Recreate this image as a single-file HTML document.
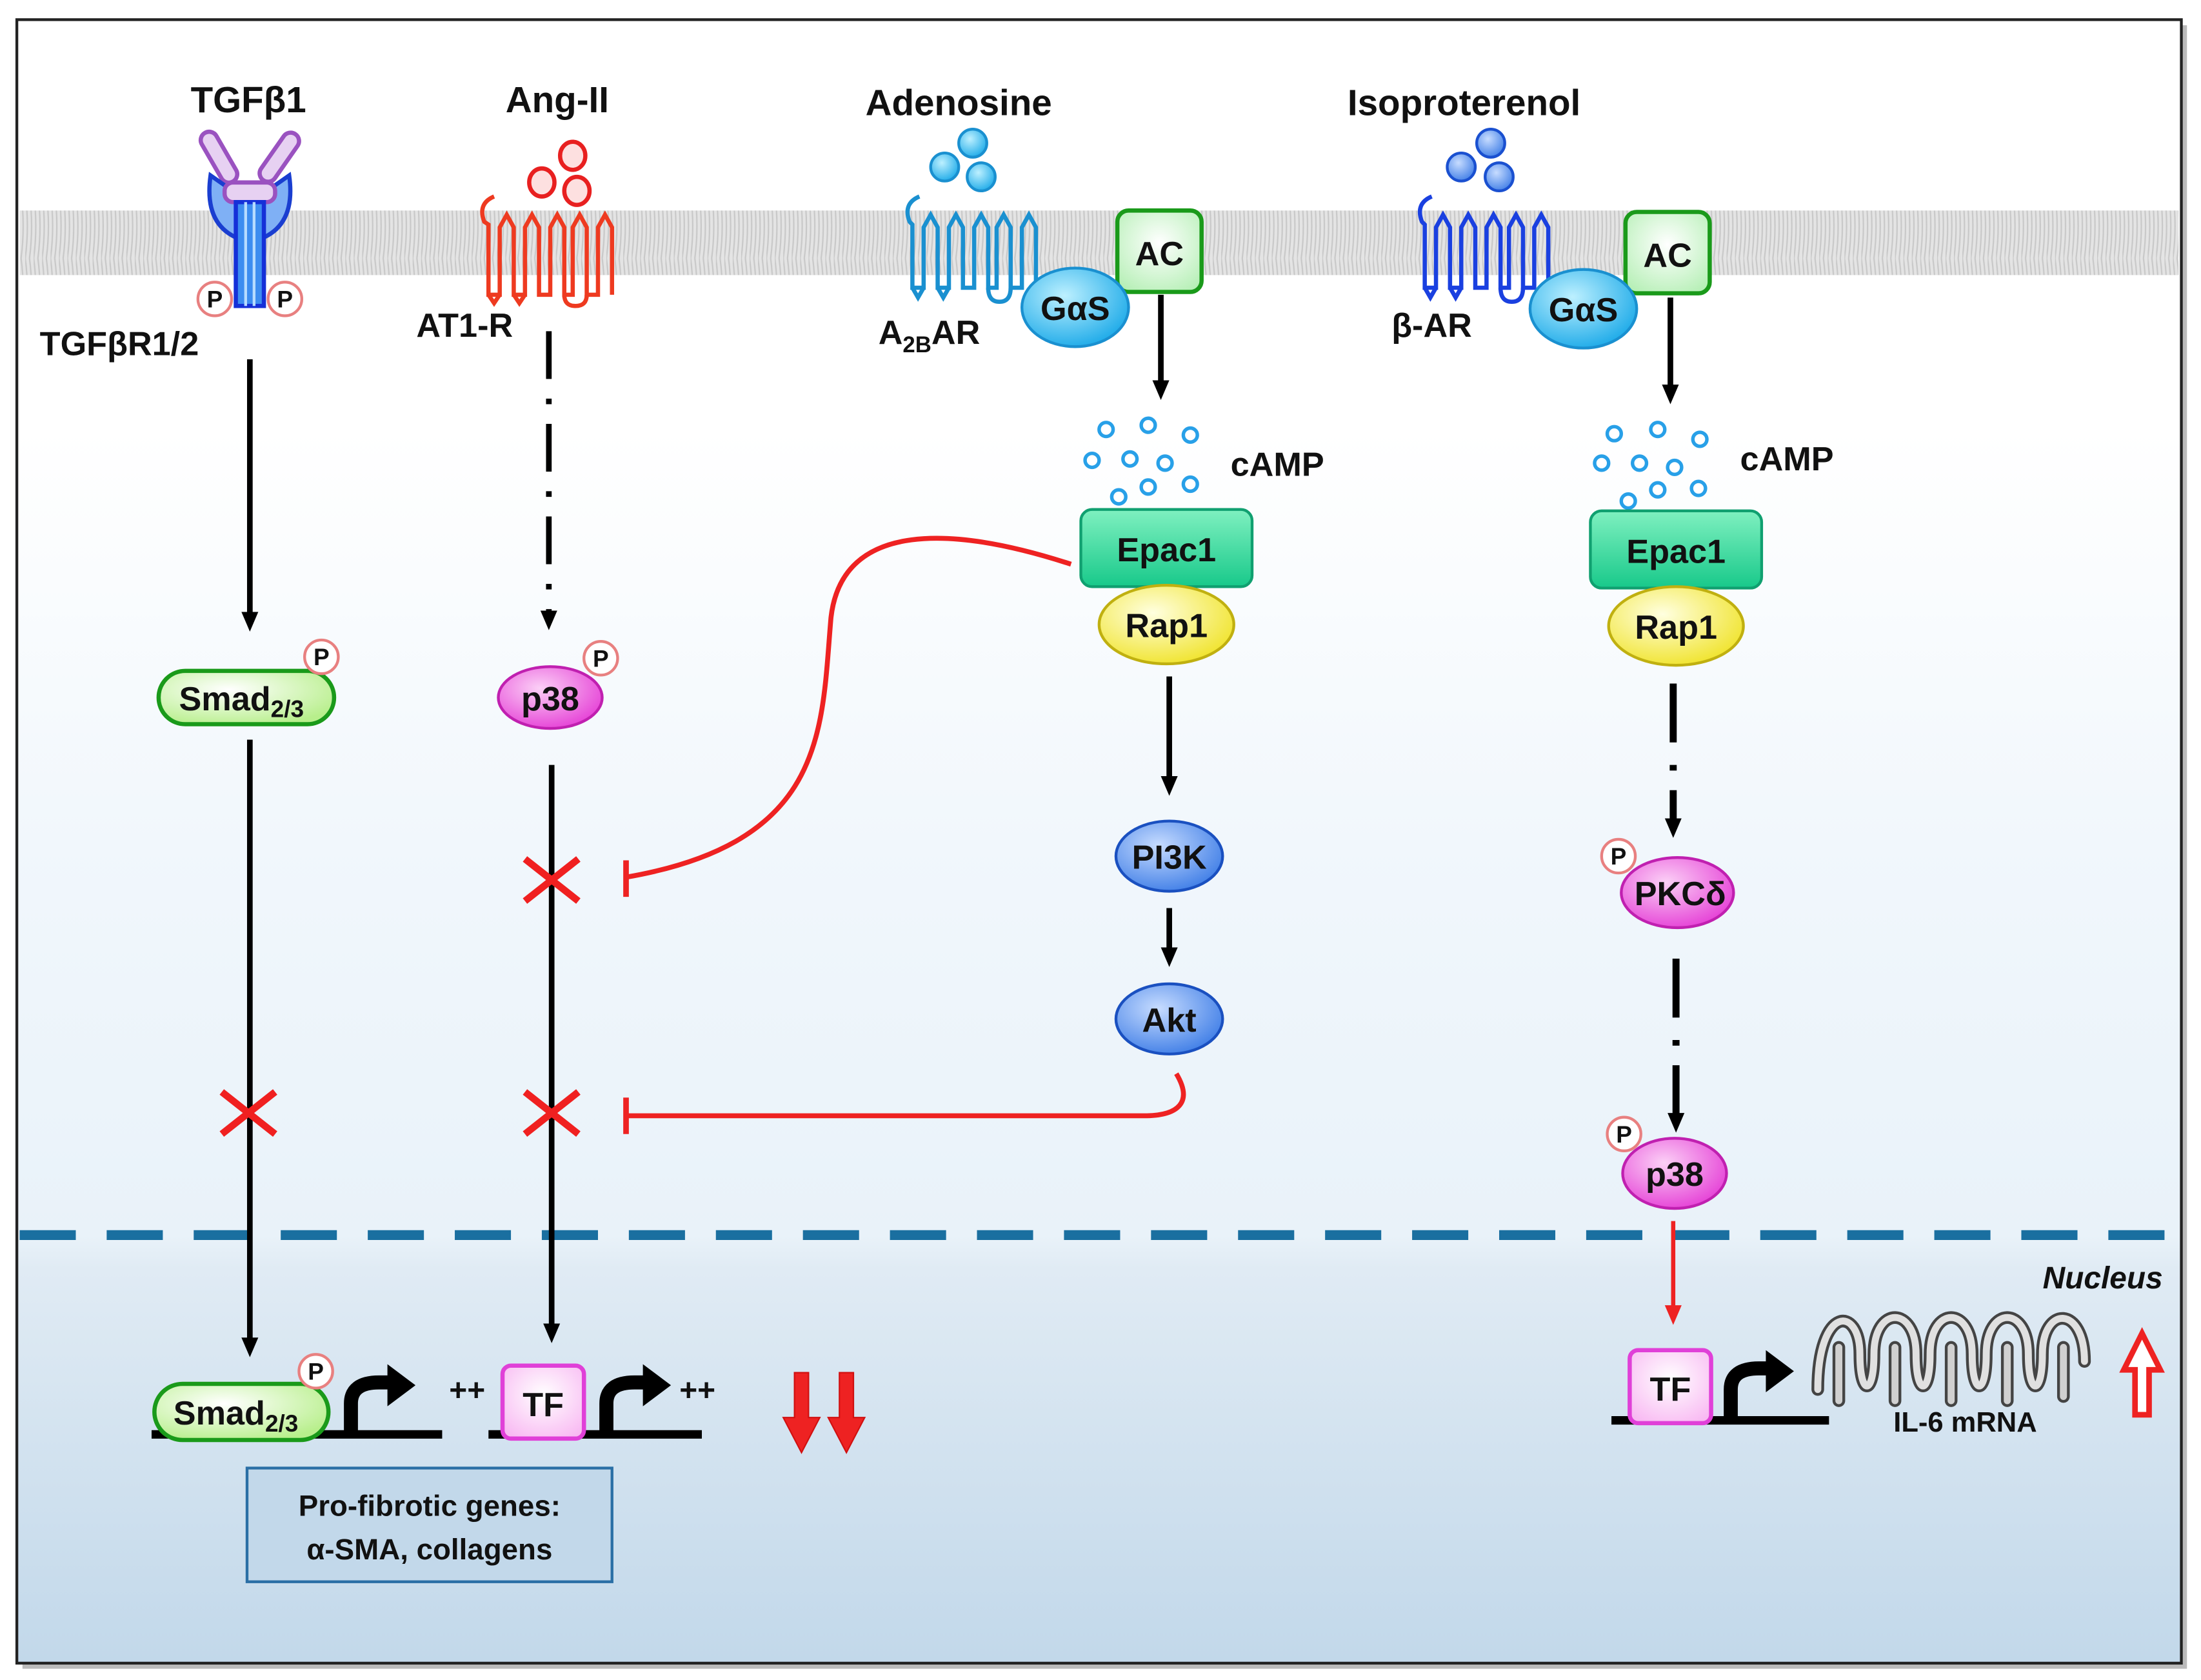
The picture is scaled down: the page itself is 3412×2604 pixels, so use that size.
<!DOCTYPE html>
<html><head><meta charset="utf-8"><style>
html,body{margin:0;padding:0;background:#fff}
svg{display:block}
text{font-family:"Liberation Sans",sans-serif;font-weight:bold;fill:#111}
</style></head><body>
<svg width="3412" height="2604" viewBox="0 0 1568 1197" preserveAspectRatio="none" xmlns="http://www.w3.org/2000/svg">
<defs>
<linearGradient id="bg" x1="0" y1="0" x2="0" y2="1">
<stop offset="0" stop-color="#ffffff"/><stop offset="0.25" stop-color="#ffffff"/><stop offset="0.5" stop-color="#f1f7fc"/><stop offset="0.74" stop-color="#e9f2f9"/><stop offset="0.76" stop-color="#e0ebf4"/><stop offset="1" stop-color="#c2d8ea"/></linearGradient>
<pattern id="mem" width="6" height="46" patternUnits="userSpaceOnUse">
<rect width="6" height="46" fill="#e4e4e4"/><path d="M0 0 Q3 23 0 46 M3 0 Q6 23 3 46" stroke="#c8c8c8" fill="none" stroke-width="1"/></pattern>
<radialGradient id="gG" cx="0.4" cy="0.35" r="0.7"><stop offset="0" stop-color="#ffffff"/><stop offset="1" stop-color="#b8ef8c"/></radialGradient>
<radialGradient id="gM" cx="0.4" cy="0.35" r="0.7"><stop offset="0" stop-color="#fbd0f6"/><stop offset="1" stop-color="#e53fd6"/></radialGradient>
<radialGradient id="gT" cx="0.5" cy="0.4" r="0.7"><stop offset="0" stop-color="#ffffff"/><stop offset="1" stop-color="#f8b8f2"/></radialGradient>
<radialGradient id="gC" cx="0.4" cy="0.35" r="0.7"><stop offset="0" stop-color="#bdf0ff"/><stop offset="1" stop-color="#1aa9e8"/></radialGradient>
<radialGradient id="gB" cx="0.4" cy="0.35" r="0.7"><stop offset="0" stop-color="#c7dcff"/><stop offset="1" stop-color="#3e7de6"/></radialGradient>
<radialGradient id="gY" cx="0.4" cy="0.35" r="0.7"><stop offset="0" stop-color="#ffffe0"/><stop offset="1" stop-color="#f0e32a"/></radialGradient>
<linearGradient id="gE" x1="0" y1="0" x2="0" y2="1"><stop offset="0" stop-color="#7ff0c0"/><stop offset="1" stop-color="#18c98a"/></linearGradient>
<radialGradient id="gA" cx="0.5" cy="0.4" r="0.7"><stop offset="0" stop-color="#ffffff"/><stop offset="1" stop-color="#b5efb5"/></radialGradient>
<marker id="ahb" markerWidth="14" markerHeight="14" refX="7" refY="7" orient="auto" markerUnits="userSpaceOnUse" viewBox="0 0 14 14"><path d="M0 1 L14 7 L0 13Z" fill="#000"/></marker>
<marker id="ahr" markerWidth="14" markerHeight="14" refX="7" refY="7" orient="auto" markerUnits="userSpaceOnUse" viewBox="0 0 14 14"><path d="M0 1 L14 7 L0 13Z" fill="#ee2222"/></marker>
</defs>
<rect x="16" y="18" width="1542" height="1171" fill="#bbb"/>
<rect x="12" y="14" width="1542" height="1171" fill="url(#bg)" stroke="#222" stroke-width="2"/>
<rect x="14" y="150" width="1538" height="46" fill="url(#mem)"/>
<line x1="14" y1="880" x2="1554" y2="880" stroke="#1a6fa0" stroke-width="7" stroke-dasharray="40 22"/>
<text x="1498" y="918" font-size="22" font-style="italic" font-weight="normal" text-anchor="middle">Nucleus</text>

<!-- TGF -->
<text x="177" y="80" font-size="26" text-anchor="middle">TGFβ1</text>
<rect x="150" y="92" width="12" height="40" rx="6" transform="rotate(-30 156 112)" fill="#e7d1f2" stroke="#9a52c0" stroke-width="3"/>
<rect x="193" y="92" width="12" height="40" rx="6" transform="rotate(35 199 112)" fill="#e7d1f2" stroke="#9a52c0" stroke-width="3"/>
<path d="M150 125 Q145 160 170 170 L186 170 Q211 160 206 125 L196 132 Q178 140 160 132Z" fill="#7fb0f5" stroke="#1a3ed0" stroke-width="3"/>
<rect x="160" y="130" width="36" height="14" rx="6" fill="#e7d1f2" stroke="#9a52c0" stroke-width="3"/>
<rect x="168" y="144" width="20" height="74" fill="#3d8df0" stroke="#1530d8" stroke-width="3"/>
<line x1="175" y1="144" x2="175" y2="218" stroke="#b8dcff" stroke-width="2"/><line x1="181" y1="144" x2="181" y2="218" stroke="#b8dcff" stroke-width="2"/>
<g font-size="17" text-anchor="middle">
<circle cx="153" cy="213" r="12" fill="#fff" stroke="#e88080" stroke-width="2"/><text x="153" y="219">P</text>
<circle cx="203" cy="213" r="12" fill="#fff" stroke="#e88080" stroke-width="2"/><text x="203" y="219">P</text></g>
<text x="85" y="253" font-size="24" text-anchor="middle">TGFβR1/2</text>
<line x1="178" y1="256" x2="178" y2="443" stroke="#000" stroke-width="4" marker-end="url(#ahb)"/>
<rect x="113" y="478" width="125" height="38" rx="19" fill="url(#gG)" stroke="#1a9a1a" stroke-width="3"/>
<text x="172" y="506" font-size="24" text-anchor="middle">Smad<tspan font-size="17" dy="5">2/3</tspan></text>
<circle cx="229" cy="468" r="12" fill="#fff" stroke="#e88080" stroke-width="2"/><text x="229" y="474" font-size="17" text-anchor="middle">P</text>
<line x1="178" y1="527" x2="178" y2="960" stroke="#000" stroke-width="4" marker-end="url(#ahb)"/>
<path d="M158 778 L196 808 M196 778 L158 808" stroke="#f02020" stroke-width="5"/>
<line x1="108" y1="1022" x2="315" y2="1022" stroke="#000" stroke-width="6"/>
<rect x="110" y="986" width="124" height="40" rx="20" fill="url(#gG)" stroke="#1a9a1a" stroke-width="3"/>
<text x="168" y="1015" font-size="24" text-anchor="middle">Smad<tspan font-size="17" dy="5">2/3</tspan></text>
<circle cx="225" cy="977" r="12" fill="#fff" stroke="#e88080" stroke-width="2"/><text x="225" y="983" font-size="17" text-anchor="middle">P</text>
<path d="M250 1022 L250 1000 Q250 985 270 985 L278 985" stroke="#000" stroke-width="10" fill="none"/><path d="M276 972 L296 987 L276 1002Z" fill="#000"/>
<text x="320" y="998" font-size="22">++</text>

<!-- Ang-II -->
<text x="397" y="80" font-size="26" text-anchor="middle">Ang-II</text>
<g fill="#fde0e0" stroke="#e82020" stroke-width="3"><ellipse cx="408" cy="111" rx="9" ry="10"/><ellipse cx="386" cy="130" rx="9" ry="10"/><ellipse cx="411" cy="136" rx="9" ry="10"/></g>
<path d="M352 140 Q340 145 345 158 L348 160 L348 210 L356 210 L356 162 L361 153 L366 162 L366 210 L374 210 L374 162 L379 153 L384 162 L384 210 L392 210 L392 162 L397 153 L402 162 L402 210 L408 210 L408 162 L413 153 L418 162 L418 210 L426 210 L426 162 L431 153 L436 162 L436 210" fill="none" stroke="#ee3a20" stroke-width="3"/>
<path d="M402 210 Q402 218 410 218 Q418 218 418 210 M348 210 L352 216 L356 210 M366 210 L370 216 L374 210" fill="none" stroke="#ee3a20" stroke-width="3"/>
<text x="331" y="240" font-size="24" text-anchor="middle">AT1-R</text>
<line x1="391" y1="236" x2="391" y2="442" stroke="#000" stroke-width="4" stroke-dasharray="34 14 4 14" marker-end="url(#ahb)"/>
<ellipse cx="392" cy="497" rx="37" ry="22" fill="url(#gM)" stroke="#c020b0" stroke-width="2"/>
<text x="392" y="506" font-size="24" text-anchor="middle">p38</text>
<circle cx="428" cy="469" r="12" fill="#fff" stroke="#e88080" stroke-width="2"/><text x="428" y="475" font-size="17" text-anchor="middle">P</text>
<line x1="393" y1="545" x2="393" y2="950" stroke="#000" stroke-width="4" marker-end="url(#ahb)"/>
<path d="M374 612 L412 642 M412 612 L374 642" stroke="#f02020" stroke-width="5"/>
<path d="M374 778 L412 808 M412 778 L374 808" stroke="#f02020" stroke-width="5"/>
<line x1="348" y1="1022" x2="500" y2="1022" stroke="#000" stroke-width="6"/>
<rect x="358" y="973" width="58" height="52" rx="6" fill="url(#gT)" stroke="#e040d8" stroke-width="3"/>
<text x="387" y="1009" font-size="24" text-anchor="middle">TF</text>
<path d="M432 1022 L432 1000 Q432 985 452 985 L460 985" stroke="#000" stroke-width="10" fill="none"/><path d="M458 972 L478 987 L458 1002Z" fill="#000"/>
<text x="484" y="998" font-size="22">++</text>
<g fill="#ee2222" stroke="#d01010" stroke-width="1">
<path d="M566 978 L576 978 L576 1010 L584 1010 L571 1035 L558 1010 L566 1010Z"/>
<path d="M598 978 L608 978 L608 1010 L616 1010 L603 1035 L590 1010 L598 1010Z"/></g>
<rect x="176" y="1046" width="260" height="81" fill="#c2d8ea" stroke="#2a6fa5" stroke-width="2"/>
<text x="306" y="1080" font-size="21" text-anchor="middle">Pro-fibrotic genes:</text>
<text x="306" y="1111" font-size="21" text-anchor="middle">α-SMA, collagens</text>

<!-- Adenosine -->
<text x="683" y="82" font-size="26" text-anchor="middle">Adenosine</text>
<g fill="url(#gC)" stroke="#1a90d0" stroke-width="2"><circle cx="693" cy="102" r="10"/><circle cx="673" cy="119" r="10"/><circle cx="699" cy="126" r="10"/></g>
<path d="M655 140 Q643 145 648 158 L650 160 L650 205 L658 205 L658 162 L663 153 L668 162 L668 205 L676 205 L676 162 L681 153 L686 162 L686 205 L694 205 L694 162 L699 153 L704 162 L704 205 L710 205 L710 162 L715 153 L720 162 L720 205 L728 205 L728 162 L733 153 L738 162 L738 205" fill="none" stroke="#1a90d0" stroke-width="3"/>
<path d="M704 205 Q704 215 712 215 Q720 215 720 205 M650 205 L654 212 L658 205 M668 205 L672 212 L676 205" fill="none" stroke="#1a90d0" stroke-width="3"/>
<text x="662" y="245" font-size="24" text-anchor="middle">A<tspan font-size="16" dy="6">2B</tspan><tspan dy="-6">AR</tspan></text>
<rect x="796" y="150" width="60" height="58" rx="8" fill="url(#gA)" stroke="#1a9a1a" stroke-width="3"/>
<text x="826" y="189" font-size="24" text-anchor="middle">AC</text>
<ellipse cx="766" cy="219" rx="38" ry="28" fill="url(#gC)" stroke="#1a90d0" stroke-width="2"/>
<text x="766" y="228" font-size="24" text-anchor="middle">GαS</text>
<line x1="827" y1="210" x2="827" y2="278" stroke="#000" stroke-width="4" marker-end="url(#ahb)"/>
<g fill="#fff" stroke="#28a0e8" stroke-width="2.5">
<circle cx="788" cy="306" r="5"/><circle cx="818" cy="303" r="5"/><circle cx="848" cy="310" r="5"/><circle cx="778" cy="328" r="5"/><circle cx="805" cy="327" r="5"/><circle cx="830" cy="330" r="5"/><circle cx="797" cy="354" r="5"/><circle cx="818" cy="347" r="5"/><circle cx="848" cy="345" r="5"/></g>
<text x="910" y="339" font-size="24" text-anchor="middle">cAMP</text>
<path d="M763 402 C680 375 600 370 592 440 C585 520 590 600 446 625" fill="none" stroke="#ee2222" stroke-width="3.5"/>
<line x1="446" y1="613" x2="446" y2="639" stroke="#ee2222" stroke-width="4"/>
<path d="M838 765 C850 785 840 795 815 795 L446 795" fill="none" stroke="#ee2222" stroke-width="3.5"/>
<line x1="446" y1="782" x2="446" y2="808" stroke="#ee2222" stroke-width="4"/>
<rect x="770" y="363" width="122" height="55" rx="8" fill="url(#gE)" stroke="#10a070" stroke-width="2"/>
<text x="831" y="400" font-size="24" text-anchor="middle">Epac1</text>
<ellipse cx="831" cy="445" rx="48" ry="28" fill="url(#gY)" stroke="#c0b010" stroke-width="2"/>
<text x="831" y="454" font-size="24" text-anchor="middle">Rap1</text>
<line x1="833" y1="482" x2="833" y2="560" stroke="#000" stroke-width="4" marker-end="url(#ahb)"/>
<ellipse cx="833" cy="610" rx="38" ry="25" fill="url(#gB)" stroke="#1a50c0" stroke-width="2"/>
<text x="833" y="619" font-size="24" text-anchor="middle">PI3K</text>
<line x1="833" y1="647" x2="833" y2="682" stroke="#000" stroke-width="4" marker-end="url(#ahb)"/>
<ellipse cx="833" cy="726" rx="38" ry="25" fill="url(#gB)" stroke="#1a50c0" stroke-width="2"/>
<text x="833" y="735" font-size="24" text-anchor="middle">Akt</text>

<!-- Isoproterenol -->
<text x="1043" y="82" font-size="26" text-anchor="middle">Isoproterenol</text>
<g fill="url(#gB)" stroke="#1a50d0" stroke-width="2"><circle cx="1062" cy="102" r="10"/><circle cx="1041" cy="119" r="10"/><circle cx="1068" cy="126" r="10"/></g>
<path d="M1020 140 Q1008 145 1013 158 L1015 160 L1015 205 L1023 205 L1023 162 L1028 153 L1033 162 L1033 205 L1041 205 L1041 162 L1046 153 L1051 162 L1051 205 L1059 205 L1059 162 L1064 153 L1069 162 L1069 205 L1075 205 L1075 162 L1080 153 L1085 162 L1085 205 L1093 205 L1093 162 L1098 153 L1103 162 L1103 205" fill="none" stroke="#1a40e0" stroke-width="3"/>
<path d="M1069 205 Q1069 215 1077 215 Q1085 215 1085 205 M1015 205 L1019 212 L1023 205 M1033 205 L1037 212 L1041 205" fill="none" stroke="#1a40e0" stroke-width="3"/>
<text x="1020" y="240" font-size="24" text-anchor="middle">β-AR</text>
<rect x="1158" y="151" width="60" height="58" rx="8" fill="url(#gA)" stroke="#1a9a1a" stroke-width="3"/>
<text x="1188" y="190" font-size="24" text-anchor="middle">AC</text>
<ellipse cx="1128" cy="220" rx="38" ry="28" fill="url(#gC)" stroke="#1a90d0" stroke-width="2"/>
<text x="1128" y="229" font-size="24" text-anchor="middle">GαS</text>
<line x1="1190" y1="212" x2="1190" y2="281" stroke="#000" stroke-width="4" marker-end="url(#ahb)"/>
<g fill="#fff" stroke="#28a0e8" stroke-width="2.5">
<circle cx="1150" cy="309" r="5"/><circle cx="1181" cy="306" r="5"/><circle cx="1211" cy="313" r="5"/><circle cx="1141" cy="330" r="5"/><circle cx="1168" cy="330" r="5"/><circle cx="1193" cy="333" r="5"/><circle cx="1160" cy="357" r="5"/><circle cx="1181" cy="349" r="5"/><circle cx="1210" cy="348" r="5"/></g>
<text x="1273" y="335" font-size="24" text-anchor="middle">cAMP</text>
<rect x="1133" y="364" width="122" height="55" rx="8" fill="url(#gE)" stroke="#10a070" stroke-width="2"/>
<text x="1194" y="401" font-size="24" text-anchor="middle">Epac1</text>
<ellipse cx="1194" cy="446" rx="48" ry="28" fill="url(#gY)" stroke="#c0b010" stroke-width="2"/>
<text x="1194" y="455" font-size="24" text-anchor="middle">Rap1</text>
<line x1="1192" y1="487" x2="1192" y2="590" stroke="#000" stroke-width="5" stroke-dasharray="42 16 4 14" marker-end="url(#ahb)"/>
<ellipse cx="1195" cy="636" rx="40" ry="25" fill="url(#gM)" stroke="#c020b0" stroke-width="2"/>
<text x="1197" y="645" font-size="24" text-anchor="middle">PKCδ</text>
<circle cx="1153" cy="610" r="12" fill="#fff" stroke="#e88080" stroke-width="2"/><text x="1153" y="616" font-size="17" text-anchor="middle">P</text>
<line x1="1194" y1="683" x2="1194" y2="800" stroke="#000" stroke-width="5" stroke-dasharray="42 16 4 14" marker-end="url(#ahb)"/>
<ellipse cx="1193" cy="836" rx="37" ry="25" fill="url(#gM)" stroke="#c020b0" stroke-width="2"/>
<text x="1193" y="845" font-size="24" text-anchor="middle">p38</text>
<circle cx="1157" cy="808" r="12" fill="#fff" stroke="#e88080" stroke-width="2"/><text x="1157" y="814" font-size="17" text-anchor="middle">P</text>
<line x1="1192" y1="870" x2="1192" y2="937" stroke="#ee2222" stroke-width="3" marker-end="url(#ahr)"/>
<line x1="1148" y1="1012" x2="1303" y2="1012" stroke="#000" stroke-width="6"/>
<rect x="1161" y="962" width="58" height="52" rx="6" fill="url(#gT)" stroke="#e040d8" stroke-width="3"/>
<text x="1190" y="998" font-size="24" text-anchor="middle">TF</text>
<path d="M1233 1012 L1233 990 Q1233 975 1253 975 L1260 975" stroke="#000" stroke-width="10" fill="none"/><path d="M1258 962 L1278 977 L1258 992Z" fill="#000"/>
<g fill="none" stroke-linecap="round">
<path id="hx" d="M1295 990 C1295 930 1325 930 1325 965 C1325 995 1335 995 1335 965 C1335 930 1365 930 1365 965 C1365 995 1375 995 1375 965 C1375 930 1405 930 1405 965 C1405 995 1415 995 1415 965 C1415 930 1445 930 1445 965 C1445 995 1455 995 1455 965 C1455 930 1485 930 1485 970" stroke="#444" stroke-width="9"/>
<path d="M1295 990 C1295 930 1325 930 1325 965 C1325 995 1335 995 1335 965 C1335 930 1365 930 1365 965 C1365 995 1375 995 1375 965 C1375 930 1405 930 1405 965 C1405 995 1415 995 1415 965 C1415 930 1445 930 1445 965 C1445 995 1455 995 1455 965 C1455 930 1485 930 1485 970" stroke="#e0e0e0" stroke-width="5"/>
<path d="M1310 960 L1310 998 M1350 960 L1350 998 M1390 960 L1390 998 M1430 960 L1430 998 M1470 960 L1470 995" stroke="#444" stroke-width="9"/>
<path d="M1310 960 L1310 998 M1350 960 L1350 998 M1390 960 L1390 998 M1430 960 L1430 998 M1470 960 L1470 995" stroke="#d0d0d0" stroke-width="5"/>
</g>
<text x="1400" y="1020" font-size="20" text-anchor="middle">IL-6 mRNA</text>
<path d="M1521 1008 L1521 976 L1513 976 L1526 950 L1539 976 L1531 976 L1531 1008Z" fill="#fff" stroke="#ee2222" stroke-width="4"/>
</svg>
</body></html>
